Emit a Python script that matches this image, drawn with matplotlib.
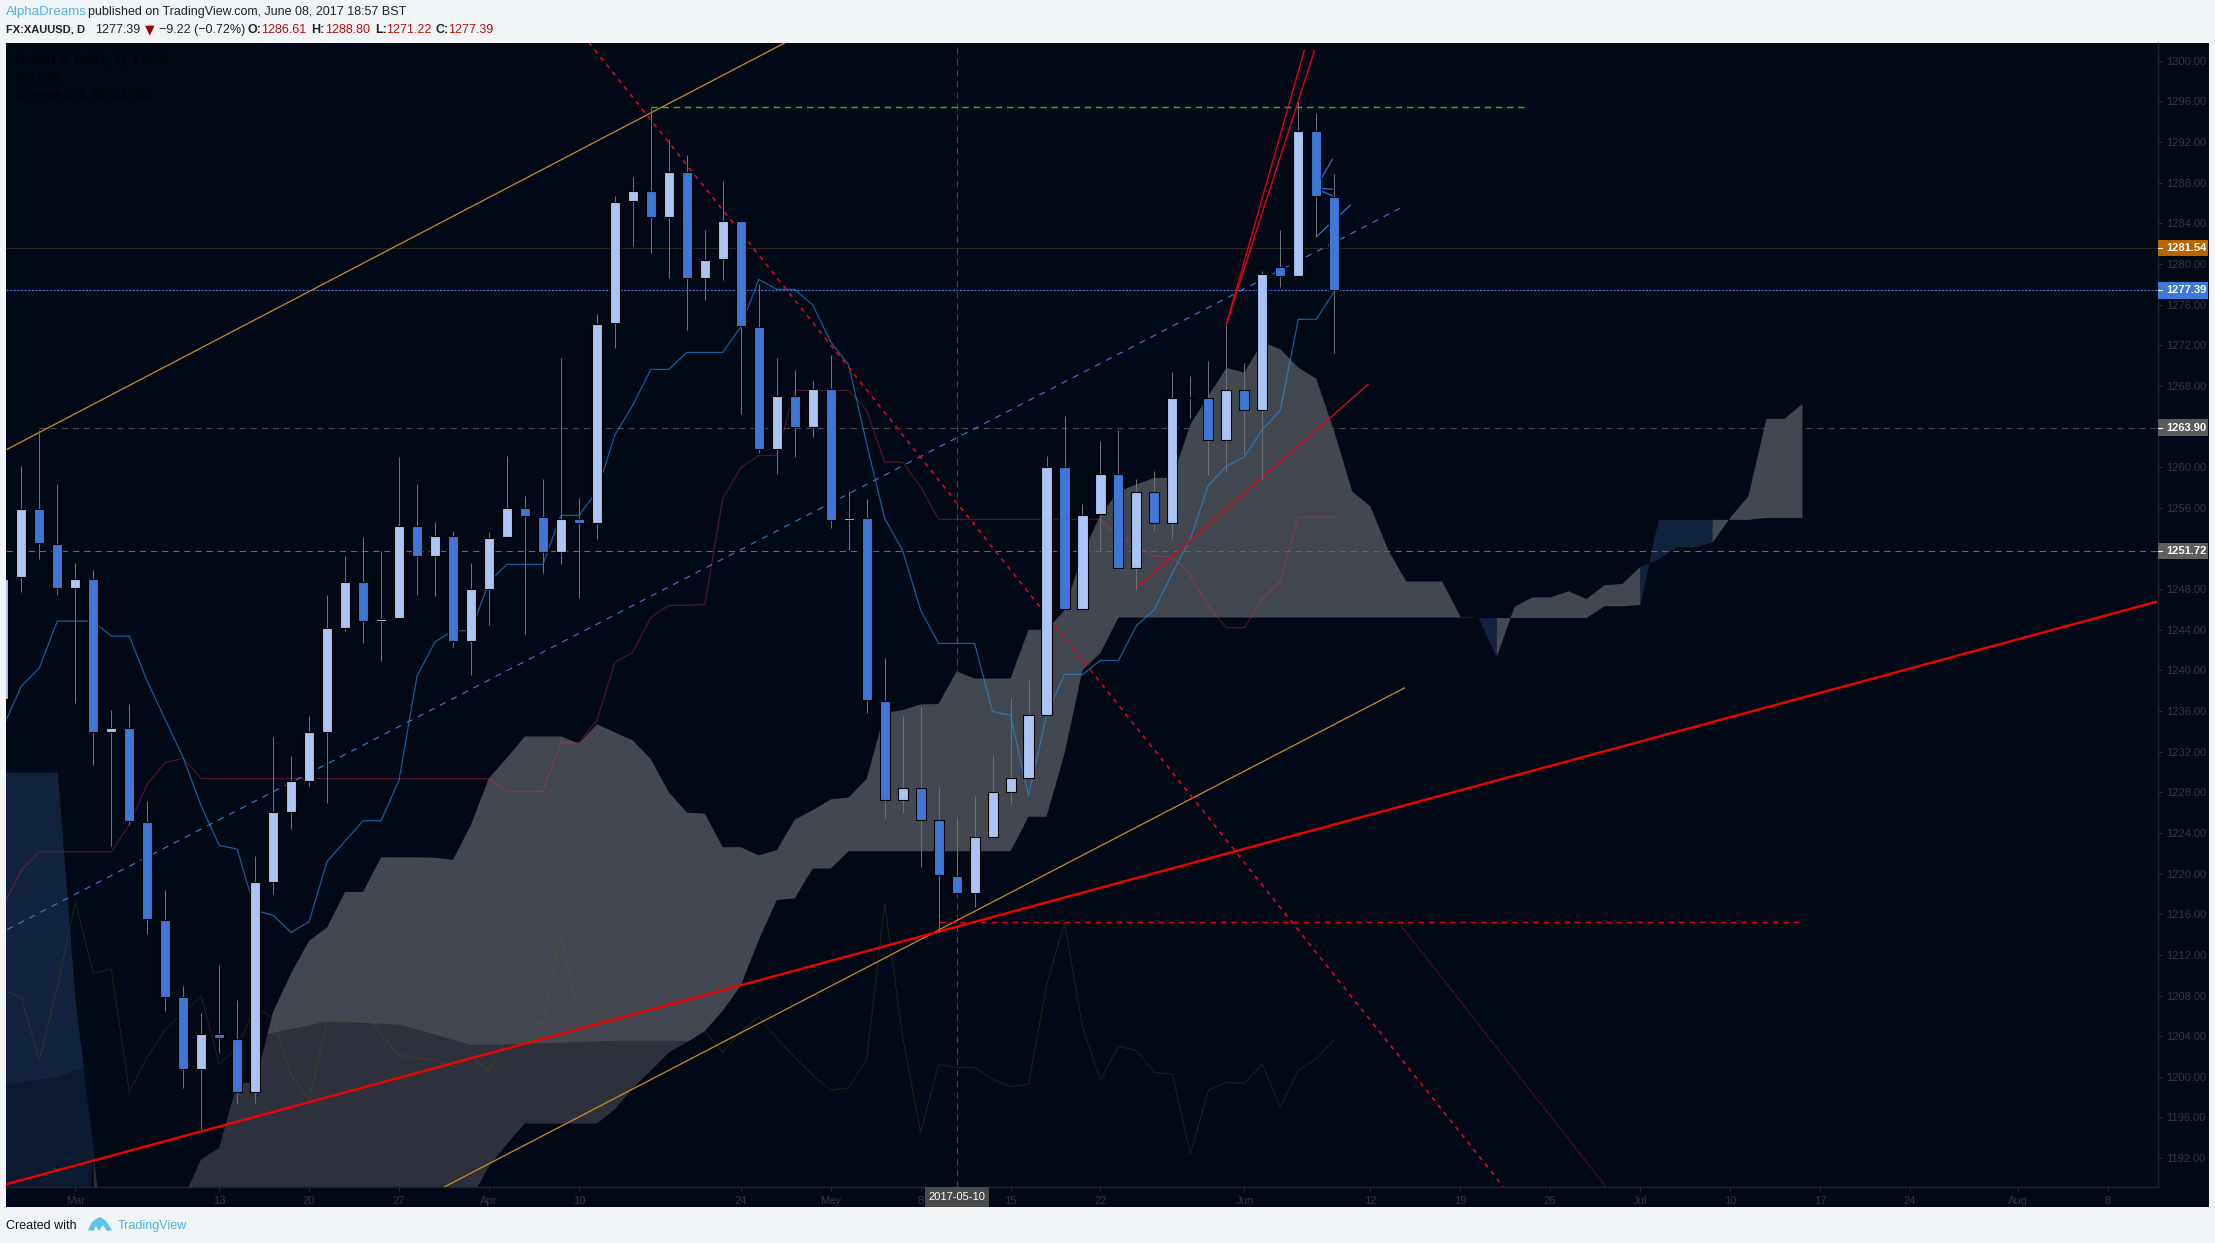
import matplotlib
matplotlib.use('Agg')
import matplotlib.pyplot as plt
from matplotlib.patches import Rectangle, Polygon

FIG_W, FIG_H = 2215, 1243
BG = '#010816'
PAGE = '#F1F5F8'
UP = '#A9C4F5'
DOWN = '#3D78D8'
CLOUD_UP = '#43474F'
CLOUD_DOWN = '#11233F'

# candles, first one is index -4, Mar 1 is index 0
first_bar = -4
opens = [1237.2, 1249.19, 1255.86, 1252.47, 1248.08, 1249.03, 1233.9, 1234.32, 1225.1, 1215.48,
         1207.86, 1200.77, 1204.26, 1203.73, 1198.5, 1219.13, 1226.1, 1229.13, 1233.95, 1244.2,
         1248.66, 1244.85, 1245.17, 1254.16, 1251.25, 1253.26, 1242.9, 1248.03, 1253.08, 1256.0,
         1255.1, 1251.64, 1254.92, 1254.46, 1274.15, 1286.16, 1287.2, 1284.58, 1289.08, 1278.58,
         1280.45, 1284.25, 1273.82, 1261.75, 1267.03, 1263.91, 1267.72, 1254.79, 1255.02, 1237.0,
         1227.2, 1228.38, 1225.23, 1219.78, 1218.14, 1223.56, 1227.99, 1229.37, 1235.57, 1260.03,
         1246.0, 1255.36, 1259.3, 1250.1, 1257.54, 1254.55, 1266.85, 1266.78, 1262.71, 1267.56,
         1265.66, 1279.72, 1278.77, 1293.11, 1286.61]
highs = [1249.03, 1260.1, 1263.7, 1258.34, 1250.57, 1249.88, 1236.07, 1236.7, 1227.1, 1218.4,
         1208.9, 1206.27, 1211.03, 1207.54, 1221.78, 1233.4, 1231.57, 1235.48, 1247.4, 1251.25,
         1253.1, 1251.78, 1261.0, 1258.34, 1254.6, 1253.74, 1250.57, 1253.58, 1261.09, 1257.2,
         1258.82, 1270.74, 1257.0, 1275.06, 1286.68, 1288.55, 1295.34, 1292.29, 1290.7, 1283.33,
         1288.16, 1284.3, 1278.0, 1270.74, 1269.55, 1268.47, 1271.0, 1257.61, 1256.86, 1241.18,
         1235.5, 1236.39, 1228.5, 1225.59, 1227.63, 1231.66, 1237.27, 1239.04, 1261.09, 1265.03,
         1256.38, 1262.56, 1263.65, 1258.84, 1259.6, 1269.35, 1268.96, 1270.44, 1274.02, 1270.23,
         1279.26, 1283.34, 1295.92, 1294.87, 1288.8]
lows = [1237.2, 1247.76, 1250.94, 1247.44, 1236.8, 1230.7, 1222.68, 1224.8, 1214.1, 1206.5,
        1198.86, 1194.84, 1202.36, 1197.3, 1197.4, 1218.0, 1224.4, 1228.66, 1226.9, 1243.84,
        1242.68, 1240.93, 1245.17, 1247.44, 1247.28, 1242.26, 1239.5, 1244.43, 1253.08, 1243.6,
        1249.6, 1250.5, 1247.08, 1252.95, 1271.75, 1281.79, 1281.07, 1278.64, 1273.52, 1276.44,
        1278.41, 1265.26, 1261.35, 1259.35, 1261.02, 1263.0, 1254.04, 1251.8, 1235.83, 1225.5,
        1225.99, 1220.67, 1214.24, 1218.1, 1216.73, 1223.56, 1226.87, 1229.37, 1235.57, 1245.9,
        1246.0, 1251.8, 1250.1, 1247.87, 1253.74, 1252.97, 1264.85, 1259.26, 1259.54, 1261.3,
        1258.87, 1277.7, 1278.77, 1282.67, 1271.22]
closes = [1249.03, 1255.86, 1252.52, 1248.08, 1249.03, 1233.9, 1234.32, 1225.16, 1215.53, 1207.9,
          1200.77, 1204.26, 1203.78, 1198.5, 1219.13, 1226.1, 1229.13, 1233.95, 1244.2, 1248.66,
          1244.85, 1245.1, 1254.16, 1251.25, 1253.26, 1242.9, 1248.03, 1253.0, 1256.0, 1255.15,
          1251.64, 1254.92, 1254.46, 1274.1, 1286.12, 1287.2, 1284.58, 1289.08, 1278.58, 1280.41,
          1284.25, 1273.85, 1261.75, 1267.03, 1263.91, 1267.72, 1254.79, 1255.02, 1237.04, 1227.2,
          1228.38, 1225.23, 1219.82, 1218.14, 1223.56, 1227.99, 1229.37, 1235.57, 1260.03, 1246.0,
          1255.3, 1259.3, 1250.1, 1257.54, 1254.55, 1266.85, 1266.9, 1262.71, 1267.56, 1265.66,
          1279.05, 1278.77, 1293.11, 1286.68, 1277.39]

tenkan = [1234.5, 1238.45, 1240.25, 1244.85, 1244.85, 1244.85, 1243.37, 1243.37, 1238.92, 1235.17,
          1231.4, 1226.65, 1222.78, 1222.41, 1216.4, 1215.9, 1214.2, 1215.27, 1221.2, 1223.2,
          1225.2, 1225.2, 1229.2, 1239.45, 1242.8, 1243.9, 1243.9, 1248.7, 1250.43, 1250.43,
          1250.43, 1255.25, 1255.25, 1257.6, 1263.16, 1266.11, 1269.62, 1269.62, 1271.29, 1271.29,
          1271.29, 1273.8, 1278.48, 1277.5, 1277.5, 1275.95, 1272.34, 1270.05, 1262.3, 1254.96,
          1251.8, 1245.93, 1242.65, 1242.65, 1242.65, 1235.96, 1235.57, 1227.66, 1235.6, 1239.6,
          1239.6, 1240.98, 1240.98, 1244.4, 1246.0, 1249.6, 1252.97, 1258.2, 1260.1, 1261.0,
          1263.7, 1265.6, 1274.55, 1274.55, 1277.3]
kijun = [1216.85, 1220.35, 1222.15, 1222.15, 1222.15, 1222.15, 1222.15, 1224.8, 1228.8, 1230.93,
         1231.35, 1229.35, 1229.35, 1229.35, 1229.35, 1229.35, 1229.35, 1229.35, 1229.35, 1229.35,
         1229.35, 1229.35, 1229.35, 1229.35, 1229.35, 1229.35, 1229.35, 1229.35, 1228.1, 1228.1,
         1228.1, 1232.88, 1232.88, 1235.08, 1240.79, 1241.8, 1245.2, 1246.4, 1246.4, 1246.5,
         1256.9, 1259.94, 1261.15, 1261.15, 1267.55, 1267.55, 1267.55, 1267.55, 1265.6, 1260.5,
         1260.5, 1258.07, 1254.86, 1254.86, 1254.86, 1254.86, 1254.86, 1254.86, 1254.86, 1254.86,
         1254.86, 1254.86, 1253.15, 1252.26, 1251.2, 1251.2, 1249.35, 1246.3, 1244.2, 1244.2,
         1247.0, 1248.75, 1255.08, 1255.08, 1255.08]
chikou = [1208.5, 1207.86, 1201.6, 1208.8, 1217.2, 1210.2, 1210.6, 1198.55, 1201.93, 1204.68,
          1206.27, 1207.96, 1201.25, 1202.83, 1206.9, 1205.74, 1200.2, 1197.7, 1205.48, 1205.32,
          1206.8, 1204.15, 1202.14, 1201.83, 1201.67, 1200.98, 1202.0, 1200.6, 1203.8, 1205.9,
          1205.2, 1214.1, 1205.9, 1206.6, 1205.2, 1203.8, 1205.9, 1203.8, 1205.2, 1204.5,
          1202.4, 1204.5, 1205.9, 1203.8, 1201.9, 1200.17, 1198.67, 1198.93, 1201.72, 1217.07,
          1203.95, 1194.5, 1201.2, 1200.93, 1200.93, 1199.75, 1199.06, 1199.26, 1209.0, 1215.2,
          1204.93, 1199.68, 1203.0, 1202.6, 1200.44, 1200.24, 1192.43, 1198.67, 1199.45, 1199.36,
          1201.26, 1197.06, 1200.63, 1201.78, 1203.69]

# cloud runs from index -4 to 96, values below 1189 are off the chart
senkou_a = [1170, 1170, 1170, 1170, 1170, 1193, 1175, 1180, 1180, 1180, 1188, 1191.9, 1193, 1199.4,
            1199.4, 1206.4, 1210.2, 1213.4, 1214.7, 1218.2, 1218.2, 1221.6, 1221.6, 1221.6, 1221.56,
            1221.35, 1224.8, 1229.4, 1231.4, 1233.5, 1233.5, 1233.5, 1232.8, 1234.7, 1233.9, 1233.1,
            1231.27, 1228.0, 1226.0, 1225.9, 1222.6, 1222.6, 1221.8, 1222.3, 1225.3, 1226.25, 1227.3,
            1227.5, 1229.3, 1235.8, 1236.1, 1236.65, 1236.7, 1239.9, 1239.2, 1239.2, 1239.2, 1244.0,
            1244.0, 1245.9, 1251.5, 1255.3, 1257.6, 1258.3, 1258.95, 1258.95, 1264.2, 1267.0, 1269.77,
            1269.3, 1272.3, 1271.6, 1269.8, 1268.7, 1263.5, 1257.6, 1256.17, 1251.84, 1248.75, 1248.75,
            1248.75, 1245.34, 1245.2, 1241.34, 1246.33, 1247.24, 1247.24, 1247.83, 1247.08, 1248.43,
            1248.56, 1250.26, 1250.95, 1252.16, 1252.16, 1252.62, 1255.1, 1257.18, 1264.8, 1264.8,
            1266.27]
senkou_b = [1229.98, 1229.98, 1229.98, 1229.98, 1207.3, 1193] + [1100] * 20 + [
            1188, 1191.2, 1193.4, 1195.4, 1195.4, 1195.4, 1195.4, 1195.4, 1196.8, 1198.9, 1200.6,
            1202.4, 1203.4, 1204.5, 1206.5, 1209.0, 1213.46, 1217.4, 1217.56, 1220.5, 1220.5] + [1222.2] * 10 + [
            1225.6, 1225.6, 1231.8, 1240.0, 1241.73] + [1245.2] * 27 + [
            1246.36, 1246.36, 1246.49, 1254.86, 1254.86, 1254.86, 1254.86, 1254.86, 1254.86,
            1255.05, 1255.05, 1255.05]

# darker band over the bottom of the cloud
band_x = [-4, -1, 0, 11, 14, 18, 20, 22, 23, 30, 36]
band_top = [1199.3, 1200.0, 1200.7, 1204.4, 1205.5, 1205.2, 1204.2, 1203.2, 1203.2, 1203.6, 1203.6]

# drawn trend lines: x0, price0, x1, price1
thick_red = [-3.79, 1189.46, 115.7, 1246.75]
orange_up = [-3.79, 1261.76, 39.5, 1301.8]
orange_low = [20.55, 1189.2, 73.9, 1238.27]
blue_channel = [-3.79, 1214.5, 73.9, 1285.7]
red_falling = [28.55, 1301.8, 79.4, 1189.2]
red_flat = [48, 1215.2, 95.9, 1215.2]
green_flat = [32, 1295.4, 80.8, 1295.4]
dim_red = [73.7, 1214.9, 85.1, 1189.2]
steep_a = [64, 1274.06, 68.33, 1301.0]
steep_b = [64, 1274.06, 68.9, 1301.0]
red_mid = [58.96, 1248.05, 71.89, 1268.15]
blue_short = [69, 1282.67, 70.9, 1285.8]
blue_fan = [[69, 1287.56, 69.9, 1290.3], [69, 1287.45, 69.9, 1287.35], [69, 1287.4, 69.9, 1286.7]]

price_ticks = [1192, 1196, 1200, 1204, 1208, 1212, 1216, 1220, 1224, 1228, 1232, 1236, 1240, 1244,
               1248, 1252, 1256, 1260, 1264, 1268, 1272, 1276, 1280, 1284, 1288, 1292, 1296, 1300]
date_ticks = [0, 8, 13, 18, 23, 28, 37, 42, 47, 52, 57, 65, 72, 77, 82, 87, 92, 97, 102, 108, 113]
date_labels = ['Mar', '13', '20', '27', 'Apr', '10', '24', 'May', '8', '15', '22', 'Jun',
               '12', '19', '26', 'Jul', '10', '17', '24', 'Aug', '8']
cursor_bar = 49
cursor_label = '2017-05-10'
price_tags = [(1281.54, '#B86200'), (1277.39, '#3D78D8'), (1263.90, '#5A5A5A'), (1251.72, '#5E5E5E')]

plt.rcParams['lines.scale_dashes'] = False
plt.rcParams['font.family'] = ['Liberation Sans', 'DejaVu Sans']


def fx(px):
    return px / FIG_W


def fy(px):
    return 1 - px / FIG_H


def head_text(x, y, s, color='#222222', weight='normal', size=9):
    fig.text(fx(x), fy(y), s, color=color, fontsize=size, fontweight=weight, ha='left', va='center')


def trend(line, color, lw=0.8, ls='-', z=5):
    ax.plot([line[0], line[2]], [line[1], line[3]], color=color, lw=lw, ls=ls, zorder=z)


fig = plt.figure(figsize=(FIG_W / 100, FIG_H / 100), dpi=100, facecolor=PAGE)
fig.add_artist(Rectangle((fx(6), fy(1207)), fx(2203), 1164 / FIG_H, transform=fig.transFigure,
                         facecolor=BG, edgecolor='none', zorder=-1))
ax = fig.add_axes([fx(6), fy(1187), fx(2152), 1144 / FIG_H], facecolor=BG)
ax.set_xlim(-3.854, 115.8)
ax.set_ylim(1189.16, 1301.74)

# cloud, each stretch takes its colour from the bar on its right
cloud_x = list(range(first_bar, first_bar + len(senkou_a)))
start = 0
for n in range(1, len(cloud_x)):
    is_up = senkou_a[n] > senkou_b[n]
    last = n == len(cloud_x) - 1
    next_up = None if last else senkou_a[n + 1] > senkou_b[n + 1]
    if last or next_up != is_up:
        ax.fill_between(cloud_x[start:n + 1], senkou_a[start:n + 1], senkou_b[start:n + 1],
                        color=CLOUD_UP if is_up else CLOUD_DOWN, lw=0, zorder=1)
        start = n
# same colour as the panel so it only shows on top of the cloud
ax.fill_between(band_x, band_top, 1180, color=BG, alpha=0.34, lw=0, zorder=1.5)

bar_x = list(range(first_bar, first_bar + len(opens)))
ax.plot(bar_x, chikou, color='#8A5A10', alpha=0.25, lw=0.8, zorder=3)
ax.plot(bar_x, kijun, color='#FF3050', alpha=0.3, lw=0.9, zorder=3)
ax.plot(bar_x, tenkan, color='#2196F3', alpha=0.6, lw=0.9, zorder=3)

# levels
ax.axhline(1281.54, color='#2A2622', lw=0.8, zorder=2)
ax.axhline(1277.39, color='#3D78D8', lw=0.8, ls=(0, (1.6, 1.0)), zorder=2)
ax.plot([-2, 115.8], [1263.90, 1263.90], color='#45484D', lw=0.8, ls=(0, (4.5, 3.5)), zorder=2)
ax.axhline(1251.72, color='#666666', lw=0.8, ls=(0, (4.5, 3.5)), zorder=2)
ax.axvline(cursor_bar, color='#44474C', lw=0.8, ls=(0, (4.5, 3.5)), zorder=2)

trend(blue_channel, '#3D78D8', 0.8, (0, (4.5, 4.5)))
trend(orange_up, '#D08A1E', 0.9)
trend(orange_low, '#D08A1E', 0.9)
trend(red_falling, '#E8001A', 1.2, (0, (3.2, 3.6)))
trend(red_flat, '#E8001A', 1.05, (0, (4.0, 3.5)))
trend(green_flat, '#12C812', 1.05, (0, (4.5, 3.5)))
trend(dim_red, '#4A0F1A', 0.8)
trend(steep_a, '#E0001A', 1.0)
trend(steep_b, '#E0001A', 1.0)
trend(red_mid, '#D40A1E', 1.0)
trend(blue_short, '#3D78D8', 0.8)
for line in blue_fan:
    trend(line, '#3D78D8', 0.8)
trend(thick_red, '#F00000', 1.7, z=5.5)

# candles
ax.vlines(bar_x, lows, highs, color='#6C6F75', lw=0.75, zorder=6)
for x, o, c in zip(bar_x, opens, closes):
    if abs(o - c) < 0.06:
        col = '#000000'
    else:
        col = UP if c > o else DOWN
    ax.bar(x, max(abs(c - o), 0.08), bottom=min(o, c), width=0.56, color=col, edgecolor='black',
           linewidth=0.8, zorder=7)

# axes
for side in ['top', 'left']:
    ax.spines[side].set_visible(False)
for side in ['right', 'bottom']:
    ax.spines[side].set_color('#1C2230')
    ax.spines[side].set_linewidth(1.0)
ax.yaxis.tick_right()
ax.set_yticks(price_ticks)
ax.set_yticklabels([f'{p:.2f}' for p in price_ticks])
ax.set_xticks(date_ticks)
ax.set_xticklabels(date_labels)
ax.tick_params(axis='y', length=3, width=0.7, color='#2A2E38', pad=3, labelsize=8, labelcolor='#33373F')
ax.tick_params(axis='x', length=3, width=0.7, color='#2A2E38', pad=3.5, labelsize=8, labelcolor='#33373F')

# price tags on the right axis
y_tr = ax.get_yaxis_transform()
for price, col in price_tags:
    ax.add_patch(Rectangle((1.0, price - 0.8), 50 / 2152, 1.6, transform=y_tr, facecolor=col,
                           edgecolor='none', clip_on=False, zorder=20))
    ax.plot([1.0, 1.0018], [price, price], transform=y_tr, color='white', lw=0.8, clip_on=False, zorder=21)
    ax.text(1 + 8 / 2152, price, f'{price:.2f}', transform=y_tr, color='white', fontsize=8,
            fontweight='bold', va='center', ha='left', clip_on=False, zorder=21)

# date tag under the cursor
x_tr = ax.get_xaxis_transform()
ax.add_patch(Rectangle((cursor_bar - 1.78, -20 / 1144), 3.56, 20 / 1144, transform=x_tr, facecolor='#4A4A4A',
                       edgecolor='none', clip_on=False, zorder=20))
ax.text(cursor_bar, -10 / 1144, cursor_label, transform=x_tr, color='white', fontsize=8,
        ha='center', va='center', clip_on=False, zorder=21)

# legend, nearly invisible on the dark panel
for y, s in [(61, 'Gold/U.S. Dollar, D, FXCM'), (78, 'Vol (20)'), (95, 'Ichimoku (9, 26, 52, 26)')]:
    fig.text(fx(15), fy(y), s, color='#01030A', fontsize=9, fontweight='bold', va='center')

# header
head_text(6, 12, 'AlphaDreams', '#4FB3E8', size=9.6)
head_text(88.5, 12, 'published on TradingView.com, June 08, 2017 18:57 BST')
head_text(6.5, 30, 'FX:XAUUSD, D', weight='bold', size=8)
head_text(95.5, 30, '1277.39')
fig.text(fx(150), fy(30), '\u25BC', color='#990000', fontsize=9, family=['DejaVu Sans'], ha='center', va='center')
head_text(159, 30, '\u22129.22 (\u22120.72%)')
for x, s in [(248, 'O:'), (311, 'H:'), (375, 'L:'), (436, 'C:')]:
    head_text(x, 30, s, weight='bold')
for x, s in [(261, '1286.61'), (325, '1288.80'), (386, '1271.22'), (448, '1277.39')]:
    head_text(x, 30, s, '#B01010')

# footer
head_text(6, 1226, 'Created with', '#111111')
logo = [(88, 1230), (92, 1222), (96, 1219), (100, 1217), (105, 1220), (108, 1224), (112, 1230),
        (107, 1231), (103, 1225), (99, 1231), (96, 1226), (93, 1231)]
fig.add_artist(Polygon([(fx(a), fy(b)) for a, b in logo], closed=True, transform=fig.transFigure,
                       facecolor='#5EC1EC', edgecolor='none'))
head_text(118, 1226, 'TradingView', '#4FB3E8')

fig.savefig('out.png', dpi=100, facecolor=PAGE)
